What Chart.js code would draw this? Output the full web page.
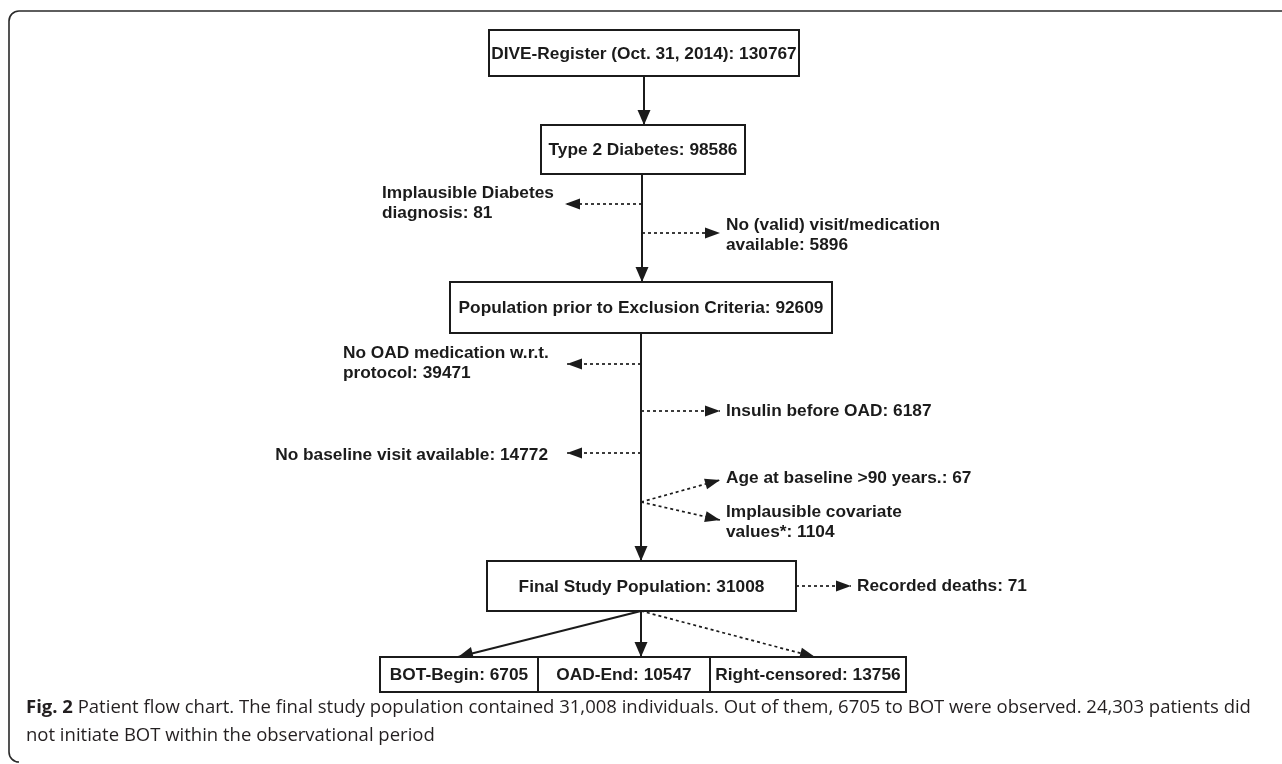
<!DOCTYPE html>
<html>
<head>
<meta charset="utf-8">
<script src="https://cdn.jsdelivr.net/npm/chart.js@4.4.1/dist/chart.umd.min.js"></script>
<style>
body { margin: 0; background: #fff; }
canvas { display: block; }
</style>
</head>
<body>
<canvas id="flow" width="1282" height="764"></canvas>
<script>
// main chain of the flow chart
const stageNames = ['DIVE-Register (Oct. 31, 2014)', 'Type 2 Diabetes', 'Population prior to Exclusion Criteria', 'Final Study Population'];
const stageCounts = [130767, 98586, 92609, 31008];

// side branches (excluded / dropped)
const exclNames = [
  ['Implausible Diabetes', 'diagnosis'],
  ['No (valid) visit/medication', 'available'],
  ['No OAD medication w.r.t.', 'protocol'],
  ['Insulin before OAD'],
  ['No baseline visit available'],
  ['Age at baseline >90 years.'],
  ['Implausible covariate', 'values*'],
  ['Recorded deaths']
];
const exclCounts = [81, 5896, 39471, 6187, 14772, 67, 1104, 71];

// end points of the final population
const outcomeNames = ['BOT-Begin', 'OAD-End', 'Right-censored'];
const outcomeCounts = [6705, 10547, 13756];

const captionBold = 'Fig. 2';
const captionLines = [
  ' Patient flow chart. The final study population contained 31,008 individuals. Out of them, 6705 to BOT were observed. 24,303 patients did',
  'not initiate BOT within the observational period'
];

/* layout, in scale units (x: 0..1282, y: 0..764 from top) */
const stageBox = [
  [489, 30, 799, 76],
  [541, 125, 745, 174],
  [450, 282, 832, 333],
  [487, 561, 796, 611]
];
const outcomeEdges = [380, 538, 710, 906];
const outcomeTop = 657, outcomeBottom = 692;

// [from x, from y, to x, to y, dotted]
const links = [
  [644, 76, 644, 125, false],
  [642, 174, 642, 282, false],
  [641, 333, 641, 561, false],
  [642, 204, 565, 204, true],
  [642, 233, 720, 233, true],
  [641, 364, 567, 364, true],
  [641, 411, 720, 411, true],
  [641, 453, 567, 453, true],
  [641, 502, 720, 480, true],
  [641, 502, 720, 520, true],
  [796, 586, 851, 586, true],
  [641, 611, 458, 657, false],
  [641, 611, 641, 657, false],
  [641, 611, 815, 657, true]
];
// label anchor of each side branch: [x, y of first line, align]
const exclLabelPos = [
  [382, 193, 'left'],
  [726, 225, 'left'],
  [343, 353, 'left'],
  [726, 411, 'left'],
  [548, 455, 'right'],
  [726, 478, 'left'],
  [726, 512, 'left'],
  [857, 586, 'left']
];

const ink = '#1b1b1b';
const boxFont = 'bold 17.3px "Liberation Sans", Arial, sans-serif';

const flowDatasets = links.map(l => ({
  data: [{x: l[0], y: l[1]}, {x: l[2], y: l[3]}],
  showLine: true,
  borderColor: ink,
  borderWidth: l[4] ? 1.7 : 2,
  borderDash: l[4] ? [3, 3] : [],
  pointRadius: 0,
  tension: 0,
  fill: false
}));

function drawArrowHead(ctx, x0, y0, x1, y1, dotted) {
  const len = 15;
  const half = dotted ? 5.5 : 6.5;
  const a = Math.atan2(y1 - y0, x1 - x0);
  ctx.save();
  ctx.translate(x1, y1);
  ctx.rotate(a);
  ctx.beginPath();
  ctx.moveTo(0, 0);
  ctx.lineTo(-len, -half);
  ctx.lineTo(-len, half);
  ctx.closePath();
  ctx.fillStyle = ink;
  ctx.fill();
  ctx.restore();
}

const flowPlugin = {
  id: 'flowPlugin',
  beforeDatasetsDraw(chart) {
    const ctx = chart.ctx;
    const sx = chart.scales.x, sy = chart.scales.y;
    const px = v => sx.getPixelForValue(v);
    const py = v => sy.getPixelForValue(v);

    // panel frame (top and left edge, rounded corners)
    ctx.save();
    ctx.strokeStyle = '#2a2a2a';
    ctx.lineWidth = 1.6;
    ctx.beginPath();
    ctx.moveTo(px(1282), py(11));
    ctx.lineTo(px(19), py(11));
    ctx.arcTo(px(9), py(11), px(9), py(21), 10);
    ctx.lineTo(px(9), py(752));
    ctx.arcTo(px(9), py(762), px(19), py(762), 10);
    ctx.stroke();
    ctx.restore();
  },
  afterDatasetsDraw(chart) {
    const ctx = chart.ctx;
    const sx = chart.scales.x, sy = chart.scales.y;
    const px = v => sx.getPixelForValue(v);
    const py = v => sy.getPixelForValue(v);

    links.forEach(l => drawArrowHead(ctx, px(l[0]), py(l[1]), px(l[2]), py(l[3]), l[4]));

    ctx.save();
    ctx.fillStyle = ink;
    ctx.strokeStyle = ink;
    ctx.lineWidth = 2;
    ctx.font = boxFont;
    ctx.textBaseline = 'middle';

    // main boxes
    stageNames.forEach((name, i) => {
      const b = stageBox[i];
      const x0 = px(b[0]), y0 = py(b[1]), x1 = px(b[2]), y1 = py(b[3]);
      ctx.fillStyle = '#fff';
      ctx.fillRect(x0, y0, x1 - x0, y1 - y0);
      ctx.strokeRect(x0, y0, x1 - x0, y1 - y0);
      ctx.fillStyle = ink;
      ctx.textAlign = 'center';
      ctx.fillText(name + ': ' + stageCounts[i], (x0 + x1) / 2, (y0 + y1) / 2 + 1);
    });

    // outcome boxes
    outcomeNames.forEach((name, i) => {
      const x0 = px(outcomeEdges[i]), x1 = px(outcomeEdges[i + 1]);
      const y0 = py(outcomeTop), y1 = py(outcomeBottom);
      ctx.fillStyle = '#fff';
      ctx.fillRect(x0, y0, x1 - x0, y1 - y0);
      ctx.strokeRect(x0, y0, x1 - x0, y1 - y0);
      ctx.fillStyle = ink;
      ctx.textAlign = 'center';
      ctx.fillText(name + ': ' + outcomeCounts[i], (x0 + x1) / 2, (y0 + y1) / 2 + 1);
    });

    // branch labels
    exclNames.forEach((lines, i) => {
      const p = exclLabelPos[i];
      ctx.textAlign = p[2];
      lines.forEach((t, j) => {
        const txt = j === lines.length - 1 ? t + ': ' + exclCounts[i] : t;
        ctx.fillText(txt, px(p[0]), py(p[1] + j * 20));
      });
    });

    // caption
    ctx.textAlign = 'left';
    ctx.textBaseline = 'alphabetic';
    ctx.fillStyle = '#231f20';
    ctx.font = 'bold 18.5px "Open Sans", sans-serif';
    ctx.fillText(captionBold, px(26), py(713));
    const bw = ctx.measureText(captionBold).width;
    ctx.font = '18.5px "Open Sans", sans-serif';
    ctx.fillText(captionLines[0], px(26) + bw, py(713));
    ctx.fillText(captionLines[1], px(26), py(741));
    ctx.restore();
  }
};

new Chart(document.getElementById('flow'), {
  type: 'scatter',
  data: { datasets: flowDatasets },
  options: {
    responsive: false,
    devicePixelRatio: 1,
    animation: false,
    layout: { padding: 0 },
    scales: {
      x: { type: 'linear', min: 0, max: 1282, display: false },
      y: { type: 'linear', min: 0, max: 764, reverse: true, display: false }
    },
    plugins: {
      legend: { display: false },
      tooltip: { enabled: false }
    }
  },
  plugins: [flowPlugin]
});
</script>
</body>
</html>
